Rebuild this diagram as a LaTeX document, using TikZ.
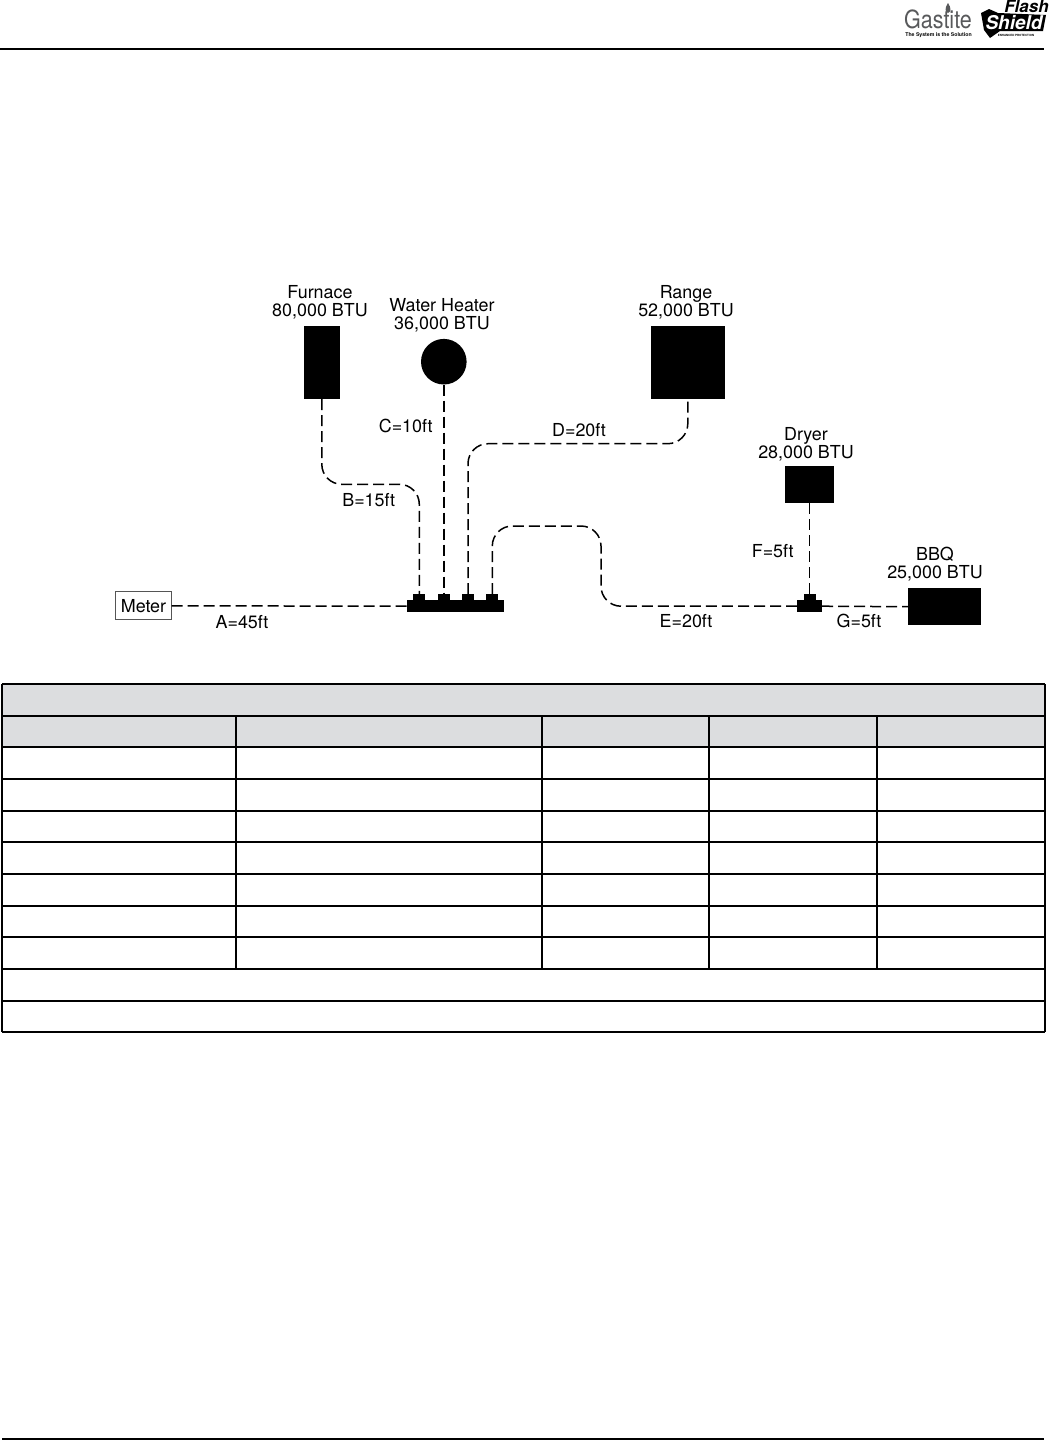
\documentclass[tikz,border=0pt]{standalone}
\usepackage{fontspec}
\setmainfont{TeX Gyre Heros}
\usepackage{xcolor}
\definecolor{head-gray}{HTML}{DCDDDF}
\definecolor{logo-gray}{HTML}{58595B}
\definecolor{meter-gray}{HTML}{555555}

\begin{document}
\begin{tikzpicture}[x=1pt, y=-1pt,
    every node/.style={inner sep=0pt, outer sep=0pt},
    appliance/.style={fill=black, minimum width=#1},
    lbl/.style={font=\fontsize{17.9}{18}\selectfont, align=center, text=black},
    pipe/.style={line width=1.5pt, dash pattern=on 11pt off 5pt, rounded corners=20pt},
    rule/.style={line width=2.2pt}]
    \useasboundingbox (0,0) rectangle (1049,1440);

    % page rules
    \coordinate (toprule-l) at (0,49);
    \coordinate (toprule-r) at (1044,49);
    \coordinate (botrule-l) at (2,1439);
    \coordinate (botrule-r) at (1044,1439);
    \draw[rule] (toprule-l) -- (toprule-r);
    \draw[rule] (botrule-l) -- (botrule-r);

    % logo
    \node[text=logo-gray, font=\fontsize{25}{25}\selectfont, xscale=0.86] (gastite) at (938,19.5) {Gastite};
    \node[font=\bfseries\fontsize{5.2}{5.2}\selectfont] (tagline) at (938.5,35) {The System is the Solution};
    \fill[logo-gray] (948,3) .. controls (944.5,8) and (945,12) .. (948,13) .. controls (951,12) and (951.5,8) .. (948,3);
    \fill (981,13) -- (989,9) -- (998,13) -- (1046,15) -- (1043,31) -- (1000,31) -- (990,38) -- (984,30) -- cycle;
    \node[text=white, font=\bfseries\itshape\fontsize{19}{19}\selectfont] (shield) at (1014,23) {Shield};
    \node[font=\bfseries\itshape\fontsize{17}{17}\selectfont] (flash) at (1026.5,6.5) {Flash};
    \node[font=\bfseries\fontsize{2.9}{3}\selectfont] (enhanced) at (1016,35) {ENHANCED PROTECTION};

    % appliances
    \node[appliance=36.5pt, minimum height=73.5pt] (furnace) at (321.8,362.3) {};
    \node[fill=black, circle, minimum size=45.6pt] (heater) at (443.8,361.7) {};
    \node[appliance=73.5pt, minimum height=73.5pt] (range) at (687.8,362.3) {};
    \node[appliance=49.5pt, minimum height=37.5pt] (dryer) at (809.5,484.4) {};
    \node[appliance=73.5pt, minimum height=37.5pt] (bbq) at (944.7,606.7) {};
    \node[draw=meter-gray, line width=0.9pt, minimum width=56pt, minimum height=28pt] (meter) at (143.5,605.8) {\fontsize{17.9}{18}\selectfont Meter};

    % manifold and tee
    \node[fill=black, minimum width=97.6pt, minimum height=11.7pt] (manifold) at (455.5,606.2) {};
    \foreach \i/\x in {1/419.3,2/443.8,3/468,4/492.3} {
      \node[fill=black, minimum width=12pt, minimum height=7pt] (port\i) at (\x,597.5) {};
    }
    \node[fill=black, minimum width=25pt, minimum height=11.7pt] (tee) at (809.5,606.2) {};
    \node[fill=black, minimum width=12pt, minimum height=7pt] (teeport) at (809.5,597.5) {};

    % bend points
    \coordinate (b-mid) at (370,484.3);
    \coordinate (d-mid) at (580,443.7);
    \coordinate (e-top) at (546,526);
    \coordinate (e-side) at (601,566);

    % pipes
    \draw[pipe] (meter.east) -- (manifold.west);
    \draw[pipe] (furnace.south) |- (b-mid) -| (port1.north);
    \draw[pipe] (heater.south) -- (port2.north);
    \draw[pipe] (port3.north) |- (d-mid) -| (range.south);
    \draw[pipe] (port4.north) |- (e-top) -| (e-side) |- (tee.west);
    \draw[pipe] (dryer.south) -- (teeport.north);
    \draw[pipe] (tee.east) -- (bbq.west);

    % labels
    \node[lbl] (furnace-lbl) at (320,302.7) {Furnace\\80,000 BTU};
    \node[lbl] (heater-lbl) at (442,315.7) {Water Heater\\36,000 BTU};
    \node[lbl] (range-lbl) at (686,302) {Range\\52,000 BTU};
    \node[lbl] (dryer-lbl) at (806,444) {Dryer\\28,000 BTU};
    \node[lbl] (bbq-lbl) at (935,564) {BBQ\\25,000 BTU};
    \node[lbl] (a-lbl) at (242,622.5) {A=45ft};
    \node[lbl] (b-lbl) at (368.7,500.5) {B=15ft};
    \node[lbl] (c-lbl) at (405.7,425.5) {C=10ft};
    \node[lbl] (d-lbl) at (579,430.5) {D=20ft};
    \node[lbl] (e-lbl) at (686,621) {E=20ft};
    \node[lbl] (f-lbl) at (772.7,551) {F=5ft};
    \node[lbl] (g-lbl) at (859,621) {G=5ft};

    % table
    \fill[head-gray] (2,684) rectangle (1045,747);
    \foreach \y in {684,716,747,779,811,842,874,906,937,969,1001,1032} {
      \draw[rule] (2,\y) -- (1045,\y);
    }
    \foreach \x in {2,1045} {
      \draw[rule] (\x,684) -- (\x,1032);
    }
    \foreach \x in {236,542,709,877} {
      \draw[rule] (\x,716) -- (\x,969);
    }
  \end{tikzpicture}
\end{document}
